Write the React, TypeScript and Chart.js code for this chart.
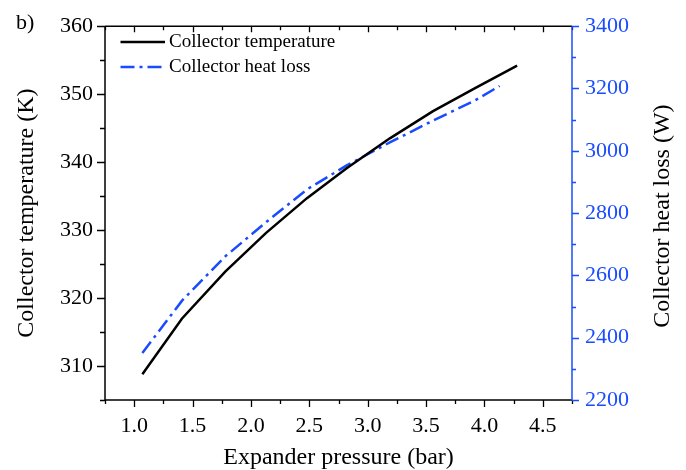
import React, { useEffect, useRef } from "react";
import { Chart, registerables } from "chart.js";

Chart.register(...registerables);

// ---- data ----
const pressureT = [1.07, 1.41, 1.78, 2.13, 2.48, 2.82, 3.19, 3.56, 3.92, 4.28];
const temperature = [308.8, 317.0, 323.9, 329.6, 334.7, 339.1, 343.5, 347.5, 350.9, 354.2];
const pressureQ = [1.07, 1.41, 1.78, 2.13, 2.48, 2.82, 3.19, 3.56, 3.92, 4.13];
const heatLoss = [2351, 2519, 2661, 2771, 2876, 2953, 3027, 3097, 3162, 3208];

const xTickValues = [1.0, 1.5, 2.0, 2.5, 3.0, 3.5, 4.0, 4.5];
const yLeftTickValues = [310, 320, 330, 340, 350, 360];
const yRightTickValues = [2200, 2400, 2600, 2800, 3000, 3200, 3400];

const seriesLabels = ["Collector temperature", "Collector heat loss"];
const xTitle = "Expander pressure (bar)";
const yLeftTitle = "Collector temperature (K)";
const yRightTitle = "Collector heat loss (W)";
const panelLabel = "b)";

const BLUE = "#1a4cff";
const FONT = "'Liberation Serif', 'Times New Roman', serif";

const decorPlugin = {
  id: "decor",
  afterDraw(chart: any) {
    const { ctx, chartArea: a, scales } = chart;
    const x = scales.x;
    const yl = scales.y;
    const yr = scales.y1;
    ctx.save();
    ctx.lineCap = "butt";
    ctx.strokeStyle = "#000";
    ctx.lineWidth = 1.5;
    ctx.beginPath();
    ctx.moveTo(a.left, a.top);
    ctx.lineTo(a.right, a.top);
    ctx.moveTo(a.left, a.bottom);
    ctx.lineTo(a.right, a.bottom);
    ctx.moveTo(a.left, a.top);
    ctx.lineTo(a.left, a.bottom);
    ctx.stroke();

    ctx.lineWidth = 1.3;
    ctx.beginPath();
    for (let v = x.min; v <= x.max + 1e-6; v += 0.25) {
      const px = Math.round(x.getPixelForValue(v)) + 0.5;
      const major = Math.abs(v * 2 - Math.round(v * 2)) < 1e-6;
      ctx.moveTo(px, a.bottom);
      ctx.lineTo(px, a.bottom + (major ? 7 : 4));
      ctx.moveTo(px, a.top);
      ctx.lineTo(px, a.top + (major ? 6 : 4));
    }
    for (let v = yl.min; v <= yl.max + 1e-6; v += 5) {
      const py = Math.round(yl.getPixelForValue(v)) + 0.5;
      const major = Math.abs(v % 10) < 1e-6;
      ctx.moveTo(a.left, py);
      ctx.lineTo(a.left - (major ? 8 : 5), py);
    }
    ctx.stroke();

    ctx.strokeStyle = BLUE;
    ctx.lineWidth = 1.5;
    ctx.beginPath();
    ctx.moveTo(a.right, a.top);
    ctx.lineTo(a.right, a.bottom);
    ctx.stroke();
    ctx.lineWidth = 1.3;
    ctx.beginPath();
    for (let v = yr.min; v <= yr.max + 1e-6; v += 100) {
      const py = Math.round(yr.getPixelForValue(v)) + 0.5;
      const major = Math.abs(v % 200) < 1e-6;
      ctx.moveTo(a.right, py);
      ctx.lineTo(a.right + (major ? 7 : 4), py);
    }
    ctx.stroke();

    ctx.fillStyle = "#000";
    ctx.font = `24px ${FONT}`;
    ctx.textAlign = "center";
    ctx.textBaseline = "middle";
    ctx.save();
    ctx.translate(663, (a.top + a.bottom) / 2 + 3);
    ctx.rotate(-Math.PI / 2);
    ctx.fillText(yRightTitle, 0, 0);
    ctx.restore();

    ctx.font = `22px ${FONT}`;
    ctx.textAlign = "left";
    ctx.textBaseline = "alphabetic";
    ctx.fillText(panelLabel, 16, 29);

    const ds = chart.data.datasets;
    ctx.font = `19px ${FONT}`;
    ds.forEach((d: any, i: number) => {
      const ly = 42 + i * 25;
      ctx.strokeStyle = d.borderColor;
      ctx.lineWidth = d.borderWidth;
      ctx.setLineDash(d.borderDash || []);
      ctx.beginPath();
      ctx.moveTo(120.5, ly);
      ctx.lineTo(165, ly);
      ctx.stroke();
      ctx.setLineDash([]);
      ctx.fillStyle = "#000";
      ctx.fillText(d.label, 169, ly + 5);
    });
    ctx.restore();
  },
};

export default function App() {
  const ref = useRef<HTMLCanvasElement | null>(null);
  useEffect(() => {
    if (!ref.current) return;
    const chart = new Chart(ref.current, {
      type: "line",
      data: {
        datasets: [
          {
            label: seriesLabels[0],
            data: pressureT.map((p, i) => ({ x: p, y: temperature[i] })),
            borderColor: "#000",
            borderWidth: 2.5,
            pointRadius: 0,
            tension: 0,
            yAxisID: "y",
          },
          {
            label: seriesLabels[1],
            data: pressureQ.map((p, i) => ({ x: p, y: heatLoss[i] })),
            borderColor: BLUE,
            borderWidth: 2.5,
            borderDash: [14, 5, 3, 5],
            pointRadius: 0,
            tension: 0,
            yAxisID: "y1",
          },
        ],
      },
      options: {
        responsive: false,
        animation: false,
        devicePixelRatio: 1,
        layout: { padding: { top: 19, left: 0, right: 0, bottom: 0 } },
        plugins: { legend: { display: false }, tooltip: { enabled: false } },
        scales: {
          x: {
            type: "linear",
            min: 0.75,
            max: 4.75,
            grid: { display: false, drawTicks: false },
            border: { display: false },
            afterBuildTicks: (s: any) => {
              s.ticks = xTickValues.map((v) => ({ value: v }));
            },
            ticks: {
              padding: 13,
              color: "#000",
              font: { family: FONT, size: 22 },
              callback: (v: any) => Number(v).toFixed(1),
              maxRotation: 0,
              autoSkip: false,
            },
            title: {
              display: true,
              text: xTitle,
              color: "#000",
              font: { family: FONT, size: 24, lineHeight: 1 },
              padding: { top: 0, bottom: 0 },
            },
            afterFit: (s: any) => {
              s.height = 70;
            },
          },
          y: {
            type: "linear",
            position: "left",
            min: 305,
            max: 360,
            grid: { display: false, drawTicks: false },
            border: { display: false },
            afterBuildTicks: (s: any) => {
              s.ticks = yLeftTickValues.map((v) => ({ value: v }));
            },
            ticks: {
              padding: 12,
              color: "#000",
              font: { family: FONT, size: 22 },
              callback: (v: any) => String(v),
              autoSkip: false,
            },
            title: {
              display: true,
              text: yLeftTitle,
              color: "#000",
              font: { family: FONT, size: 24, lineHeight: 1 },
              padding: { top: 15, bottom: 0 },
            },
            afterFit: (s: any) => {
              s.width = 105;
            },
          },
          y1: {
            type: "linear",
            position: "right",
            min: 2200,
            max: 3400,
            grid: { display: false, drawTicks: false },
            border: { display: false },
            afterBuildTicks: (s: any) => {
              s.ticks = yRightTickValues.map((v) => ({ value: v }));
            },
            ticks: {
              padding: 13,
              color: BLUE,
              font: { family: FONT, size: 22 },
              callback: (v: any) => String(v),
              autoSkip: false,
            },
            afterFit: (s: any) => {
              s.width = 114;
            },
          },
        },
      },
      plugins: [decorPlugin],
    } as any);
    return () => chart.destroy();
  }, []);
  return (
    <div style={{ position: "absolute", left: 0, top: 0, width: 686, height: 470, background: "#fff" }}>
      <canvas ref={ref} width={686} height={470} style={{ width: 686, height: 470, display: "block" }} />
    </div>
  );
}
